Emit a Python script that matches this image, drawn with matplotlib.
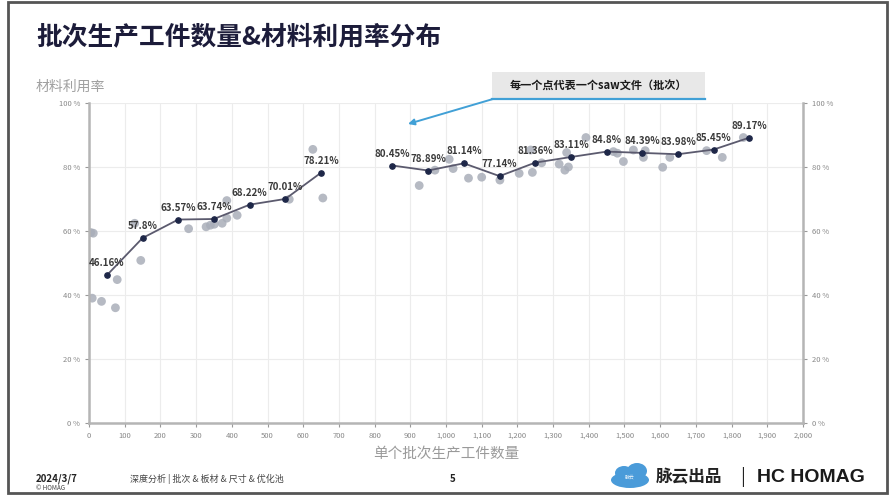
import numpy as np
import matplotlib.pyplot as plt
from matplotlib.patches import Rectangle, Ellipse, FancyArrowPatch
from matplotlib.ticker import FuncFormatter

plt.rcParams['font.family'] = ['Noto Sans CJK SC', 'DejaVu Sans']

# average utilisation per batch-size bin (line)
avg_x1 = [50, 150, 250, 350, 450, 550, 650]
avg_y1 = [46.16, 57.8, 63.57, 63.74, 68.22, 70.01, 78.21]
avg_x2 = [850, 950, 1050, 1150, 1250, 1350, 1450, 1550, 1650, 1750, 1850]
avg_y2 = [80.45, 78.89, 81.14, 77.14, 81.36, 83.11, 84.8, 84.39, 83.98, 85.45, 89.17]

# single saw files (scatter)
pts_x = [5, 9, 35, 74, 79, 145, 128, 279, 328, 351, 373, 386, 386, 415, 561, 627, 655,
         925, 969, 1009, 1020, 1063, 1100, 1151, 1205, 1242, 1237, 1268, 1317, 1333,
         1338, 1343, 1392, 1469, 1480, 1497, 1525, 1553, 1558, 1607, 1627, 1730, 1774,
         1833, 12, 340]
pts_y = [59.5, 39, 38, 36, 44.8, 50.8, 62.4, 60.7, 61.3, 62.1, 62.4, 64, 69.5, 64.9,
         69.9, 85.5, 70.3, 74.2, 79, 82.4, 79.5, 76.5, 76.8, 75.9, 78, 78.3, 85.3, 81.3,
         80.9, 79, 84.5, 80, 89.2, 84.8, 84.3, 81.7, 85.3, 83, 85.1, 79.9, 83, 85.1, 83,
         89.2, 59.3, 61.8]

x_ticks = list(range(0, 2001, 100))
y_ticks = [0, 20, 40, 60, 80, 100]

fig = plt.figure(figsize=(8.91, 4.95), dpi=100)
ax = fig.add_axes([0.0999, 0.1455, 0.8013, 0.6465])

ax.scatter(pts_x, pts_y, s=40, color='#a9aeb9', alpha=0.85, edgecolors='none', zorder=2)
for xs, ys in ((avg_x1, avg_y1), (avg_x2, avg_y2)):
    ax.plot(xs, ys, color='#5b5a6e', lw=1.3, marker='o', ms=3.8,
            mfc='#1e2748', mec='#1e2748', zorder=3)
    for x, y in zip(xs, ys):
        ax.annotate(f'{y:g}%', (x, y), xytext=(0, 5), textcoords='offset points',
                    ha='center', va='bottom', fontsize=7, fontweight='bold',
                    color='#3a3a3a', zorder=4)

ax.set_xlim(0, 2000)
ax.set_ylim(0, 100)
ax.set_xticks(x_ticks)
ax.xaxis.set_major_formatter(FuncFormatter(lambda v, p: f'{int(v):,}'))
ax.set_yticks(y_ticks)
ax.yaxis.set_major_formatter(FuncFormatter(lambda v, p: f'{int(v)} %'))
ax.grid(True, color='#ececec', lw=0.8)
ax.set_axisbelow(True)
ax.tick_params(labelsize=5.5, colors='#999999', length=3, width=0.8, labelcolor='#888888')
for side in ('left', 'bottom'):
    ax.spines[side].set_color('#b5b5b5')
    ax.spines[side].set_linewidth(1.8)
ax.spines['top'].set_visible(False)
ax.spines['right'].set_visible(False)

ax2 = ax.twinx()
ax2.set_ylim(0, 100)
ax2.set_yticks(y_ticks)
ax2.yaxis.set_major_formatter(FuncFormatter(lambda v, p: f'{int(v)} %'))
ax2.tick_params(labelsize=5.5, colors='#999999', length=3, width=0.8, labelcolor='#888888')
for side in ('left', 'bottom', 'top'):
    ax2.spines[side].set_visible(False)
ax2.spines['right'].set_color('#b5b5b5')
ax2.spines['right'].set_linewidth(1.8)

ax.set_xlabel('单个批次生产工件数量', fontsize=10.5, color='#9a9a9a', labelpad=5)

# slide frame and texts
fig.patches.append(Rectangle((8 / 891, 2 / 495), 879 / 891, 491 / 495, transform=fig.transFigure,
                             fill=False, ec='#555555', lw=2))
fig.text(36 / 891, 1 - 37 / 495, '批次生产工件数量&材料利用率分布', fontsize=18.5,
         fontweight='bold', color='#1c1c3a', va='center')
fig.text(36 / 891, 1 - 87 / 495, '材料利用率', fontsize=10, color='#a0a0a0', va='center')

# annotation box with arrow
fig.patches.append(Rectangle((492 / 891, 1 - 98 / 495), 213 / 891, 26 / 495,
                             transform=fig.transFigure, fc='#e8e8e8', ec='none'))
fig.text(598 / 891, 1 - 85 / 495, '每一个点代表一个saw文件（批次）', fontsize=8,
         fontweight='bold', color='#1a1a1a', ha='center', va='center')
fig.lines.append(plt.Line2D([492 / 891, 705 / 891], [1 - 99 / 495, 1 - 99 / 495],
                            transform=fig.transFigure, color='#41a0d6', lw=1.6))
fig.patches.append(FancyArrowPatch((493 / 891, 1 - 99 / 495), (408 / 891, 1 - 124 / 495),
                                   transform=fig.transFigure, arrowstyle='-|>',
                                   mutation_scale=9, color='#41a0d6', lw=1.4,
                                   shrinkA=0, shrinkB=0))

# footer
fig.text(36 / 891, 1 - 479 / 495, '2024/3/7', fontsize=7, fontweight='bold', color='#222222', va='center')
fig.text(36 / 891, 1 - 488 / 495, '© HOMAG', fontsize=4.5, color='#444444', va='center')
fig.text(130 / 891, 1 - 479 / 495, '深度分析 | 批次 & 板材 & 尺寸 & 优化池', fontsize=6.5,
         color='#444444', va='center')
fig.text(450 / 891, 1 - 479 / 495, '5', fontsize=7, fontweight='bold', color='#222222', va='center')

for cx, cy, w, h in ((630, 480, 38, 16), (624, 473, 18, 14), (637, 471, 20, 16)):
    fig.patches.append(Ellipse((cx / 891, 1 - cy / 495), w / 891, h / 495,
                               transform=fig.transFigure, fc='#4a9bd9', ec='none'))
fig.text(630 / 891, 1 - 477 / 495, '脉云', fontsize=3.5, color='white', ha='center', va='center')
fig.text(656 / 891, 1 - 477 / 495, '脉云出品', fontsize=12, fontweight='bold', color='#222222', va='center')
fig.text(740 / 891, 1 - 477 / 495, '|', fontsize=13, color='#222222', va='center')
fig.text(757 / 891, 1 - 477 / 495, 'HC HOMAG', fontsize=14, fontweight='bold', color='#1a1a1a',
         va='center', family=['Liberation Sans', 'DejaVu Sans'])

fig.savefig('out.png', dpi=100)
